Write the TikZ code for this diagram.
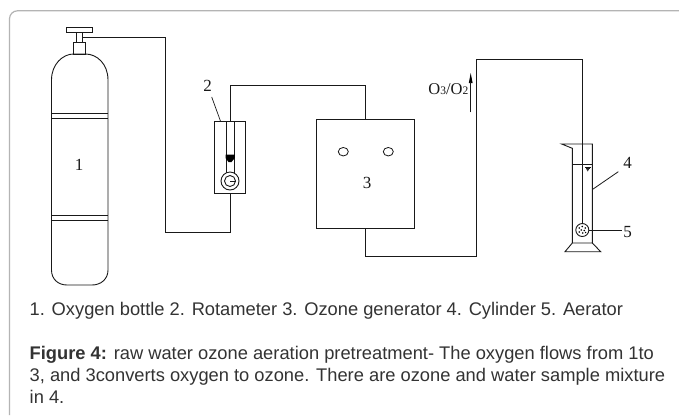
\documentclass[tikz,border=0pt]{standalone}
\usepackage{fontspec}
\usetikzlibrary{shapes.geometric}
\setmainfont{Liberation Serif}
\newfontfamily\capfont{Liberation Sans}
\definecolor{captext}{HTML}{333333}
\definecolor{framegray}{HTML}{B4B4B4}
\tikzset{
  ln/.style={draw=black!90,line width=0.9pt},
  boxnode/.style={draw=black!90,line width=0.9pt,inner sep=0pt,fill=none},
  lab/.style={font=\fontsize{17}{19}\selectfont,inner sep=0pt,text=black!90},
  captxt/.style={font=\capfont\fontsize{18.3}{22}\selectfont,inner sep=0pt,anchor=base west,text=captext,align=left}
}
\begin{document}
\begin{tikzpicture}[x=1pt,y=-1pt]
\useasboundingbox (0,0) rectangle (679,416);
\fill[white] (0,0) rectangle (679,416);
% frame
\draw[framegray,line width=1.2pt,rounded corners=8pt] (9.5,415) -- (9.5,10.8) -- (680,10.8);
% gas bottle
\draw[ln] (51.5,80) .. controls (51.5,64) and (63,54) .. (73.5,54) -- (85.5,54)
  .. controls (97,54) and (108,64) .. (108,80) -- (108,270)
  .. controls (108,279) and (101,285) .. (92,285) -- (67,285)
  .. controls (58,285) and (51.5,279) .. (51.5,270) -- cycle;
\draw[ln] (51.5,113) -- (108,113) (51.5,118) -- (108,118);
\draw[ln] (51.5,215.7) -- (108,215.7) (51.5,220) -- (108,220);
\node[boxnode,minimum width=12pt,minimum height=12pt] (neck) at (79.5,48) {};
\node[boxnode,minimum width=6pt,minimum height=10pt] (stem) at (79.5,37) {};
\node[boxnode,minimum width=26pt,minimum height=5.5pt] (handle) at (79.7,29.8) {};
\node[lab] (n1) at (79,165) {1};
% rotameter
\node[boxnode,minimum width=31.4pt,minimum height=71.6pt] (rot) at (230,157.5) {};
\draw[ln] (226,121.7) -- (226,172.5) (234.3,121.7) -- (234.3,172.5);
\fill[black] (225.5,154.5) -- (234.8,154.5) -- (234.8,158) -- (231.5,162) -- (228.5,162) -- (225.5,158) -- cycle;
\node[circle,draw=black!90,line width=0.9pt,inner sep=0pt,minimum size=18pt] (gaugeout) at (230,181) {};
\node[circle,draw=black!90,line width=0.9pt,inner sep=0pt,minimum size=11pt] (gaugein) at (230,181) {};
\draw[ln] (230,181) -- (235.5,181);
\node[lab] (n2) at (207.7,85.7) {2};
\coordinate (l2) at (211.7,97);
\draw[ln,line width=0.7pt] (l2) -- (220.7,121.7);
% generator
\node[boxnode,minimum width=98.4pt,minimum height=109.4pt] (gen) at (365.5,174) {};
\node[ellipse,draw=black!90,line width=0.8pt,inner sep=0pt,minimum width=10pt,minimum height=8.5pt] (k1) at (343.3,151.7) {};
\node[ellipse,draw=black!90,line width=0.8pt,inner sep=0pt,minimum width=10pt,minimum height=8.5pt] (k2) at (388.3,151.7) {};
\node[lab] (n3) at (367,183) {3};
% cylinder
\draw[ln] (561.7,144) -- (592.3,144) -- (592.3,243) -- (572.3,243) -- (572.3,148.3) -- cycle;
\draw[ln] (572.3,164.3) -- (592.3,164.3);
\draw[ln,line width=0.6pt] (585,167) -- (590.5,167) (585.8,168.5) -- (589.8,168.5);
\fill[black!80] (586,168.5) -- (589.5,168.5) -- (587.7,171.5) -- cycle;
\draw[ln] (572.3,243) -- (565,251.7) -- (600.7,251.7) -- (592.3,243);
\node[circle,draw=black!90,line width=0.9pt,inner sep=0pt,minimum size=13pt] (aer) at (582.3,230) {};
\foreach \dx/\dy in {-3/-2,0/-3.5,3/-2,-1/0,2/0.5,-3/2,0.5/3,3.3/2.5}
  \fill[black] (582.3+\dx,230+\dy) circle[radius=0.85pt];
\node[lab] (n4) at (627.7,163.3) {4};
\node[lab] (n5) at (627.7,231.7) {5};
\coordinate (l4a) at (592.7,189.3);
\coordinate (l4b) at (618.3,171.7);
\coordinate (l5) at (621.7,230);
\draw[ln,line width=0.8pt] (l4a) -- (l4b);
\draw[ln,line width=0.8pt] (aer.east) -- (l5);
% pipes
\coordinate (p1a) at (165,37.5);
\coordinate (p1b) at (165,232);
\coordinate (p1c) at (230,232);
\draw[ln] (82.5,37.5) -- (p1a) -- (p1b) -- (p1c) -- (rot.south);
\coordinate (p2a) at (230,85);
\coordinate (p2b) at (365.5,85);
\draw[ln] (rot.north) -- (p2a) -- (p2b) -- (gen.north);
\coordinate (p3a) at (365.5,256);
\coordinate (p3b) at (476.7,256);
\coordinate (p3c) at (476.7,59.3);
\coordinate (p3d) at (582.3,59.3);
\draw[ln] (gen.south) -- (p3a) -- (p3b) -- (p3c) -- (p3d) -- (aer.north);
% flow arrow
\coordinate (f1) at (470.7,112.3);
\coordinate (f2) at (470.7,73);
\fill[black] (f2) -- (472.6,83) -- (468.8,83) -- cycle;
\draw[ln,line width=0.8pt] (f1) -- (470.7,82);
\node[font=\fontsize{16.5}{18}\selectfont,inner sep=0pt,text=black!90,anchor=base east] (flow) at (468.5,94.5) {O{\fontsize{11.5}{12}\selectfont 3}/O{\fontsize{11.5}{12}\selectfont 2}};
% captions
\node[captxt] (c1) at (29.5,315.7) {1. Oxygen bottle 2. Rotameter 3. Ozone generator 4. Cylinder 5. Aerator};
\node[captxt,anchor=north west] (c2) at (29.5,346.5) {\textbf{Figure 4:} raw water ozone aeration pretreatment- The oxygen flows from 1to\\
3, and 3converts oxygen to ozone. There are ozone and water sample mixture\\
in 4.};
\end{tikzpicture}
\end{document}
